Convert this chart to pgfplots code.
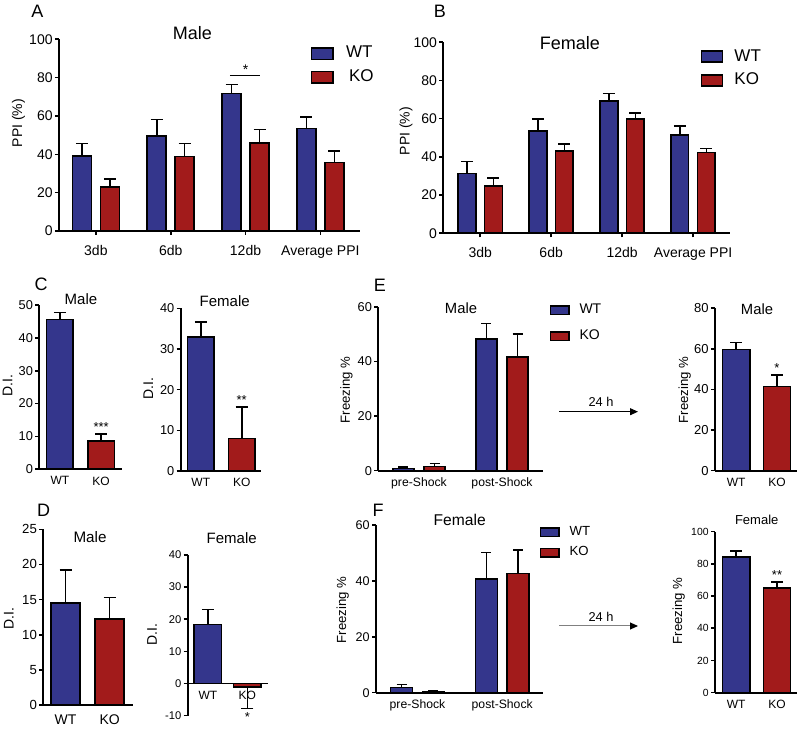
\documentclass[border=0pt]{standalone}
\usepackage{pgfplots}
\pgfplotsset{compat=1.18}
\usepackage{fontspec}
\setmainfont{Liberation Sans}
\usetikzlibrary{arrows.meta}
\definecolor{wtblue}{RGB}{52,54,140}
\definecolor{kored}{RGB}{162,27,27}
\newcommand{\fs}[1]{\fontsize{#1}{#1}\selectfont}
\pgfplotsset{
  base/.style={
    scale only axis, anchor=south west, clip=false,
    axis lines*=left,
    axis line style={line width=0.9pt},
    tick align=outside, major tick length=2pt,
    tick style={line width=0.8pt, black},
    /pgf/number format/assume math mode=true,
    enlargelimits=false,
    yticklabel style={inner sep=1pt},
    xticklabel style={inner sep=1.5pt},
  },
  nox/.style={xtick style={draw=none}},
  barerr/.style={ybar, draw=black, line width=0.8pt, bar shift=0pt,
    /pgfplots/error bars/y dir=plus, /pgfplots/error bars/y explicit,
    /pgfplots/error bars/error bar style={line width=0.8pt, black},
    /pgfplots/error bars/error mark options={rotate=90, line width=0.8pt, black, mark size=#1}},
}
\begin{document}
\begin{tikzpicture}
\path[use as bounding box] (0pt,0pt) rectangle (400pt,367.5pt);

% ---------------- A ----------------
\begin{axis}[base, at={(29.5pt,252pt)}, width=150.5pt, height=95.85pt,
  xmin=-0.493, xmax=3.53, ymin=0, ymax=100, ytick={0,20,...,100},
  xtick={0,1,2,3}, xticklabels={3db,6db,12db,Average PPI},
  tick label style={font=\fs{7}}, xticklabel style={yshift=-3.5pt},
  legend style={at={(axis description cs:0.835,0.966)}, anchor=north west, draw=none, fill=none,
    inner sep=0pt, row sep=4.5pt, column sep=6pt, font=\fs{8.5}, nodes={inner sep=0pt}},
  legend cell align=left,
  legend image code/.code={\draw[#1,line width=0.8pt] (0pt,-2.9pt) rectangle (10.85pt,2.9pt);},
]
\addplot[barerr=3pt, fill=wtblue, bar width=9.5pt] coordinates {
 (-0.187,39) +- (0,6.6) (0.813,49.5) +- (0,8.7) (1.813,71.8) +- (0,4.7) (2.813,53.4) +- (0,6.2)};
\addlegendentry{WT}
\addplot[barerr=3pt, fill=kored, bar width=9.5pt] coordinates {
 (0.187,23.1) +- (0,4) (1.187,38.8) +- (0,6.9) (2.187,46) +- (0,7) (3.187,35.8) +- (0,5.9)};
\addlegendentry{\hspace{1.5pt}KO}
\draw[line width=0.5pt] (axis cs:1.79,81) -- (axis cs:2.19,81);
\node[font=\fs{7}, anchor=south, inner sep=0.5pt] at (axis cs:2,81) {*};
\end{axis}

% ---------------- B ----------------
\begin{axis}[base, at={(221.65pt,250.85pt)}, width=143.35pt, height=95.5pt,
  xmin=-0.52, xmax=3.52, ymin=0, ymax=100, ytick={0,20,...,100},
  xtick={0,1,2,3}, xticklabels={3db,6db,12db,Average PPI},
  tick label style={font=\fs{7}}, xticklabel style={yshift=-3.5pt},
  legend style={at={(axis description cs:0.897,0.965)}, anchor=north west, draw=none, fill=none,
    inner sep=0pt, row sep=4.5pt, column sep=5.5pt, font=\fs{8.5}, nodes={inner sep=0pt}},
  legend cell align=left,
  legend image code/.code={\draw[#1,line width=0.8pt] (0pt,-2.75pt) rectangle (10.5pt,2.75pt);},
]
\addplot[barerr=3pt, fill=wtblue, bar width=8.85pt] coordinates {
 (-0.187,31.4) +- (0,6.1) (0.813,53.6) +- (0,6.1) (1.813,69.4) +- (0,3.7) (2.813,51.5) +- (0,4.8)};
\addlegendentry{WT}
\addplot[barerr=3pt, fill=kored, bar width=8.85pt] coordinates {
 (0.187,24.9) +- (0,4.2) (1.187,43.2) +- (0,3.6) (2.187,59.8) +- (0,3.3) (3.187,42.4) +- (0,1.9)};
\addlegendentry{KO}
\end{axis}

% ---------------- C Male ----------------
\begin{axis}[base, nox, at={(19.65pt,132.85pt)}, width=41.2pt, height=82.15pt,
  xmin=-0.5, xmax=1.5, ymin=0, ymax=50, ytick={0,10,...,50},
  xtick={0,1}, xticklabels={WT,KO},
  yticklabel style={font=\fs{6.4}}, xticklabel style={font=\fs{6}},
]
\addplot[barerr=3pt, fill=wtblue, bar width=13.3pt] coordinates {(0,45.6) +- (0,2.1)};
\addplot[barerr=3pt, fill=kored, bar width=13.3pt] coordinates {(1,8.7) +- (0,2.0)};
\node[font=\fs{6.5}, anchor=south, inner sep=1pt] at (axis cs:1,10.7) {***};
\end{axis}

% ---------------- C Female ----------------
\begin{axis}[base, nox, at={(90.35pt,132pt)}, width=40.15pt, height=81.35pt,
  xmin=-0.49, xmax=1.47, ymin=0, ymax=40, ytick={0,10,...,40},
  xtick={0,1}, xticklabels={WT,KO},
  yticklabel style={font=\fs{6.4}}, xticklabel style={font=\fs{6}},
]
\addplot[barerr=3pt, fill=wtblue, bar width=13.3pt] coordinates {(0,32.9) +- (0,3.8)};
\addplot[barerr=3pt, fill=kored, bar width=13.3pt] coordinates {(1,8.0) +- (0,7.8)};
\node[font=\fs{6.5}, anchor=south, inner sep=1pt] at (axis cs:1,15.8) {**};
\end{axis}

% ---------------- E left ----------------
\begin{axis}[base, nox, at={(189.15pt,132.15pt)}, width=82.2pt, height=82pt,
  xmin=-0.49, xmax=1.49, ymin=0, ymax=60, ytick={0,20,40,60},
  xtick={0,1}, xticklabels={pre-Shock,post-Shock},
  yticklabel style={font=\fs{6.4}}, xticklabel style={font=\fs{6.1}},
  legend style={at={(axis description cs:1.039,1.02)}, anchor=north west, draw=none, fill=none,
    inner sep=0pt, row sep=6.7pt, column sep=5pt, font=\fs{7}, nodes={inner sep=0pt}},
  legend cell align=left,
  legend image code/.code={\draw[#1,line width=0.8pt] (0pt,-2.1pt) rectangle (9.2pt,2.1pt);},
]
\addplot[barerr=2.5pt, fill=wtblue, bar width=10.5pt] coordinates {
 (-0.187,0.8) +- (0,0.5) (0.813,48.1) +- (0,5.8)};
\addlegendentry{WT}
\addplot[barerr=2.5pt, fill=kored, bar width=10.5pt] coordinates {
 (0.187,1.5) +- (0,1.2) (1.187,41.7) +- (0,8.3)};
\addlegendentry{KO}
\end{axis}

% ---------------- E right ----------------
\begin{axis}[base, nox, at={(357.5pt,132.15pt)}, width=41pt, height=81.2pt,
  xmin=-0.52, xmax=1.49, ymin=0, ymax=80, ytick={0,20,...,80},
  xtick={0,1}, xticklabels={WT,KO},
  yticklabel style={font=\fs{6.5}}, xticklabel style={font=\fs{6}},
]
\addplot[barerr=3pt, fill=wtblue, bar width=13.65pt] coordinates {(0,59.8) +- (0,3.4)};
\addplot[barerr=3pt, fill=kored, bar width=13.65pt] coordinates {(1,41.4) +- (0,5.7)};
\node[font=\fs{6.5}, anchor=south, inner sep=1pt] at (axis cs:1,47.1) {*};
\end{axis}

% ---------------- D Male ----------------
\begin{axis}[base, nox, at={(21.65pt,15pt)}, width=44.85pt, height=87.85pt,
  xmin=-0.505, xmax=1.53, ymin=0, ymax=25, ytick={0,5,...,25},
  xtick={0,1}, xticklabels={WT,KO},
  yticklabel style={font=\fs{6.6}}, xticklabel style={font=\fs{7}, yshift=-1pt},
]
\addplot[barerr=3pt, fill=wtblue, bar width=14.5pt] coordinates {(0,14.5) +- (0,4.7)};
\addplot[barerr=3pt, fill=kored, bar width=14.5pt] coordinates {(1,12.2) +- (0,3.1)};
\end{axis}

% ---------------- D Female ----------------
\begin{axis}[base, nox, axis x line*=middle, axis y line*=left,
  at={(93.85pt,9.65pt)}, width=40.3pt, height=80.35pt,
  xmin=-0.51, xmax=1.53, ymin=-10, ymax=40, ytick={-10,0,...,40},
  xtick={0,1}, xticklabels={WT,KO},
  yticklabel style={font=\fs{5.6}}, xticklabel style={font=\fs{6}},
]
\addplot[barerr=3pt, fill=wtblue, bar width=13.75pt] coordinates {(0,18.4) +- (0,4.7)};
\addplot[barerr=3pt, /pgfplots/error bars/y dir=minus, fill=kored, bar width=13.75pt] coordinates {(1,-1.0) +- (0,6.8)};
\node[font=\fs{6.5}, anchor=north, inner sep=1pt] at (axis cs:1,-8.2) {*};
\end{axis}

% ---------------- F left ----------------
\begin{axis}[base, nox, at={(188pt,21.15pt)}, width=83.65pt, height=83.85pt,
  xmin=-0.49, xmax=1.485, ymin=0, ymax=60, ytick={0,20,40,60},
  xtick={0,1}, xticklabels={pre-Shock,post-Shock},
  yticklabel style={font=\fs{6.3}}, xticklabel style={font=\fs{6.1}},
  legend style={at={(axis description cs:0.976,0.995)}, anchor=north west, draw=none, fill=none,
    inner sep=0pt, row sep=4.15pt, column sep=5pt, font=\fs{6.6}, nodes={inner sep=0pt}},
  legend cell align=left,
  legend image code/.code={\draw[#1,line width=0.8pt] (0pt,-2.1pt) rectangle (9.2pt,2.1pt);},
]
\addplot[barerr=2.5pt, fill=wtblue, bar width=11pt] coordinates {
 (-0.187,1.9) +- (0,1.1) (0.813,40.7) +- (0,9.4)};
\addlegendentry{WT}
\addplot[barerr=2.5pt, fill=kored, bar width=11pt] coordinates {
 (0.187,0.4) +- (0,0.3) (1.187,42.7) +- (0,8.4)};
\addlegendentry{KO}
\end{axis}

% ---------------- F right ----------------
\begin{axis}[base, nox, at={(357.5pt,21.15pt)}, width=41pt, height=80.5pt,
  xmin=-0.52, xmax=1.49, ymin=0, ymax=100, ytick={0,20,...,100},
  xtick={0,1}, xticklabels={WT,KO},
  yticklabel style={font=\fs{5.2}}, xticklabel style={font=\fs{6}},
]
\addplot[barerr=3pt, fill=wtblue, bar width=13.65pt] coordinates {(0,84.1) +- (0,3.9)};
\addplot[barerr=3pt, fill=kored, bar width=13.65pt] coordinates {(1,65.0) +- (0,3.6)};
\node[font=\fs{6.5}, anchor=south, inner sep=1pt] at (axis cs:1,68.6) {**};
\end{axis}

% ---------------- texts ----------------
\node[font=\fs{9}] at (18.75pt,361.65pt) {A};
\node[font=\fs{9}] at (96.25pt,351pt) {Male};
\node[font=\fs{7}, rotate=90] at (9.25pt,306pt) {PPI (\%)};
\node[font=\fs{9}] at (220pt,362pt) {B};
\node[font=\fs{9}] at (285pt,346.15pt) {Female};
\node[font=\fs{7}, rotate=90] at (203pt,302pt) {PPI (\%)};

\node[font=\fs{9}] at (20.5pt,225.5pt) {C};
\node[font=\fs{7.5}] at (40.5pt,218.1pt) {Male};
\node[font=\fs{7}, rotate=90] at (3.75pt,174.6pt) {D.I.};
\node[font=\fs{7.5}] at (112.35pt,217.1pt) {Female};
\node[font=\fs{7}, rotate=90] at (74.15pt,173pt) {D.I.};

\node[font=\fs{9}] at (190pt,224.75pt) {E};
\node[font=\fs{7.4}] at (230.5pt,213.5pt) {Male};
\node[font=\fs{6.6}, rotate=90] at (173.25pt,172.5pt) {Freezing \%};
\node[font=\fs{6.4}] at (300.5pt,166.75pt) {24 h};
\draw[line width=0.5pt, -{Triangle[length=4pt,width=3.5pt]}] (279.5pt,161.65pt) -- (319pt,161.65pt);
\node[font=\fs{7.4}] at (378.5pt,213pt) {Male};
\node[font=\fs{6.6}, rotate=90] at (342.35pt,172.5pt) {Freezing \%};

\node[font=\fs{9}] at (21.85pt,112.5pt) {D};
\node[font=\fs{7.6}] at (45pt,98.75pt) {Male};
\node[font=\fs{7}, rotate=90] at (4.35pt,58pt) {D.I.};
\node[font=\fs{7.5}] at (115.85pt,98.35pt) {Female};
\node[font=\fs{7}, rotate=90] at (76pt,50pt) {D.I.};

\node[font=\fs{9}] at (189pt,112.25pt) {F};
\node[font=\fs{7.8}] at (229.85pt,107.5pt) {Female};
\node[font=\fs{6.6}, rotate=90] at (171.4pt,62.5pt) {Freezing \%};
\node[font=\fs{6.4}] at (300.5pt,59.25pt) {24 h};
\draw[line width=0.5pt, gray, -{Triangle[length=4pt,width=3.5pt,black]}] (279.5pt,54.5pt) -- (319pt,54.5pt);
\node[font=\fs{6.5}] at (378.35pt,107.65pt) {Female};
\node[font=\fs{6.6}, rotate=90] at (339.35pt,62pt) {Freezing \%};
\end{tikzpicture}
\end{document}
